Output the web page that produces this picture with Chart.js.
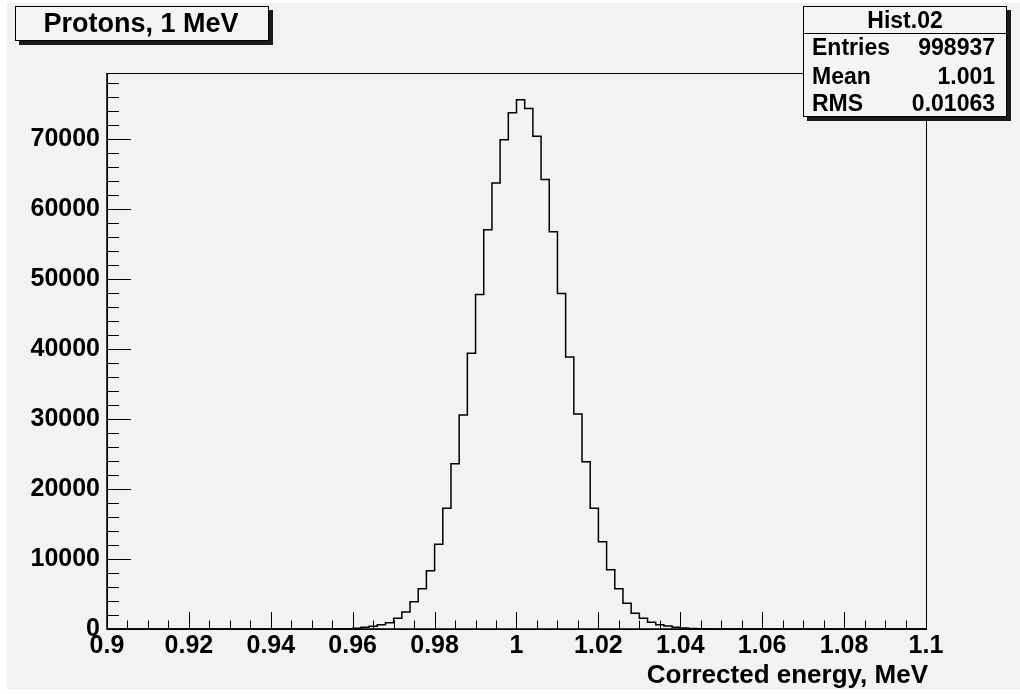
<!DOCTYPE html>
<html>
<head>
<meta charset="utf-8">
<script src="https://cdn.jsdelivr.net/npm/chart.js@4/dist/chart.umd.min.js"></script>
<style>
  html, body { margin: 0; padding: 0; background: #ffffff; }
  #wrap { width: 1020px; height: 694px; }
</style>
</head>
<body>
<div id="wrap"><canvas id="histo" width="1020" height="694"></canvas></div>
<script>
// histogram bins (lower edges, width 0.002 MeV) and counts
const binEdges = [
  0.956, 0.958, 0.960, 0.962, 0.964, 0.966, 0.968, 0.970, 0.972, 0.974,
  0.976, 0.978, 0.980, 0.982, 0.984, 0.986, 0.988, 0.990, 0.992, 0.994,
  0.996, 0.998, 1.000, 1.002, 1.004, 1.006, 1.008, 1.010, 1.012, 1.014,
  1.016, 1.018, 1.020, 1.022, 1.024, 1.026, 1.028, 1.030, 1.032, 1.034,
  1.036, 1.038, 1.040, 1.042, 1.044, 1.046
];
const binCounts = [
  20, 50, 100, 240, 400, 620, 890, 1524, 2429, 3900,
  5757, 8333, 12100, 17243, 23614, 30571, 39386, 47814, 57043, 63714,
  69900, 73757, 75614, 74386, 70429, 64243, 56757, 47957, 38857, 30714,
  23900, 17243, 12476, 8476, 5757, 3667, 2238, 1524, 957, 614,
  430, 240, 140, 80, 30
];

// axes
const xRange = [0.9, 1.1];
const yRange = [0, 79450];
const xTickLabels = [0.9, 0.92, 0.94, 0.96, 0.98, 1, 1.02, 1.04, 1.06, 1.08, 1.1];
const yTickLabels = [0, 10000, 20000, 30000, 40000, 50000, 60000, 70000];
const xMinorStep = 0.005;
const yMinorStep = 2000;

// texts
const histTitle = 'Protons, 1 MeV';
const xAxisTitle = 'Corrected energy, MeV';
const statsName = 'Hist.02';
const statLabels = ['Entries', 'Mean', 'RMS'];
const statValues = ['998937', '1.001', '0.01063'];

const FONT = '"Liberation Sans", Arial, Helvetica, sans-serif';
const BG = '#f2f2f2';

// step line points: start/end along the zero line, then one point per bin edge
const points = [{ x: xRange[0], y: 0 }, { x: binEdges[0], y: 0 }];
binCounts.forEach((c, i) => points.push({ x: binEdges[i], y: c }));
points.push({ x: binEdges[binEdges.length - 1], y: 0 });
points.push({ x: xRange[1], y: 0 });

function drawBox(ctx, x0, y0, x1, y1) {
  // shadow
  ctx.fillStyle = '#1a1a1a';
  ctx.fillRect(x0 + 4, y0 + 4, x1 - x0, y1 - y0);
  ctx.fillStyle = '#f4f4f4';
  ctx.fillRect(x0, y0, x1 - x0, y1 - y0);
  ctx.strokeStyle = '#000';
  ctx.lineWidth = 1;
  ctx.strokeRect(x0 + 0.5, y0 + 0.5, x1 - x0 - 1, y1 - y0 - 1);
}

const rootStyle = {
  id: 'rootStyle',
  beforeDraw(chart) {
    const ctx = chart.ctx;
    ctx.save();
    ctx.fillStyle = '#ffffff';
    ctx.fillRect(0, 0, chart.width, chart.height);
    ctx.fillStyle = BG;
    ctx.fillRect(7, 3, chart.width - 7, chart.height - 7);
    ctx.restore();
  },
  afterDraw(chart) {
    const ctx = chart.ctx;
    const xs = chart.scales.x, ys = chart.scales.y;
    const a = chart.chartArea;
    ctx.save();

    // frame
    ctx.strokeStyle = '#000';
    ctx.lineWidth = 1;
    ctx.strokeRect(Math.round(a.left) + 0.5, Math.round(a.top) + 0.5,
      Math.round(a.right - a.left), Math.round(a.bottom - a.top));
    ctx.lineWidth = 1.5;
    ctx.beginPath();
    ctx.moveTo(a.left, a.top);
    ctx.lineTo(a.left, a.bottom);
    ctx.lineTo(a.right, a.bottom);
    ctx.stroke();

    // tick marks, pointing inward
    ctx.lineWidth = 1;
    ctx.beginPath();
    for (let i = 0; ; i++) {
      const v = yRange[0] + i * yMinorStep;
      if (v > yRange[1]) break;
      const py = Math.round(ys.getPixelForValue(v)) + 0.5;
      const len = (v % 10000 === 0) ? 24 : 12;
      ctx.moveTo(a.left, py);
      ctx.lineTo(a.left + len, py);
    }
    for (let i = 0; ; i++) {
      const v = xRange[0] + i * xMinorStep;
      if (v > xRange[1] + 1e-9) break;
      const px = Math.round(xs.getPixelForValue(v)) + 0.5;
      const len = (i % 4 === 0) ? 17 : 8.5;
      ctx.moveTo(px, a.bottom);
      ctx.lineTo(px, a.bottom - len);
    }
    ctx.stroke();

    // axis title
    ctx.fillStyle = '#000';
    ctx.font = 'bold 26px ' + FONT;
    ctx.textAlign = 'right';
    ctx.textBaseline = 'alphabetic';
    ctx.fillText(xAxisTitle, 928, 683);

    // title box
    drawBox(ctx, 15, 6, 269, 41);
    ctx.fillStyle = '#000';
    ctx.font = 'bold 27px ' + FONT;
    ctx.textAlign = 'center';
    ctx.fillText(histTitle, 141, 32);

    // stats box
    drawBox(ctx, 803, 6, 1007, 117);
    ctx.beginPath();
    ctx.moveTo(803, 33.5);
    ctx.lineTo(1007, 33.5);
    ctx.stroke();
    ctx.fillStyle = '#000';
    ctx.font = 'bold 23px ' + FONT;
    ctx.textAlign = 'center';
    ctx.fillText(statsName, 905, 28);
    const rowY = [55, 84, 111];
    statLabels.forEach((lab, i) => {
      ctx.textAlign = 'left';
      ctx.fillText(lab, 812, rowY[i]);
      ctx.textAlign = 'right';
      ctx.fillText(statValues[i], 995, rowY[i]);
    });

    ctx.restore();
  }
};

new Chart(document.getElementById('histo'), {
  type: 'line',
  data: {
    datasets: [{
      data: points,
      stepped: 'before',
      borderColor: '#000',
      borderWidth: 1.5,
      pointRadius: 0,
      fill: false,
      tension: 0
    }]
  },
  options: {
    responsive: false,
    devicePixelRatio: 1,
    animation: false,
    layout: { padding: { top: 73, right: 94, left: 0, bottom: 0 } },
    plugins: { legend: { display: false }, tooltip: { enabled: false } },
    scales: {
      x: {
        type: 'linear',
        min: xRange[0],
        max: xRange[1],
        grid: { display: false, drawTicks: false },
        border: { display: false },
        afterBuildTicks: s => { s.ticks = xTickLabels.map(v => ({ value: v })); },
        afterFit: s => { s.height = 65; },
        ticks: {
          color: '#000',
          font: { family: FONT, size: 25, weight: 'bold' },
          padding: 2,
          maxRotation: 0,
          autoSkip: false,
          callback: v => String(Number(v.toFixed(3)))
        }
      },
      y: {
        type: 'linear',
        min: yRange[0],
        max: yRange[1],
        grid: { display: false, drawTicks: false },
        border: { display: false },
        afterBuildTicks: s => { s.ticks = yTickLabels.map(v => ({ value: v })); },
        afterFit: s => { s.width = 107; },
        ticks: {
          color: '#000',
          font: { family: FONT, size: 25, weight: 'bold' },
          padding: 7,
          autoSkip: false,
          callback: v => String(v)
        }
      }
    }
  },
  plugins: [rootStyle]
});
</script>
</body>
</html>
